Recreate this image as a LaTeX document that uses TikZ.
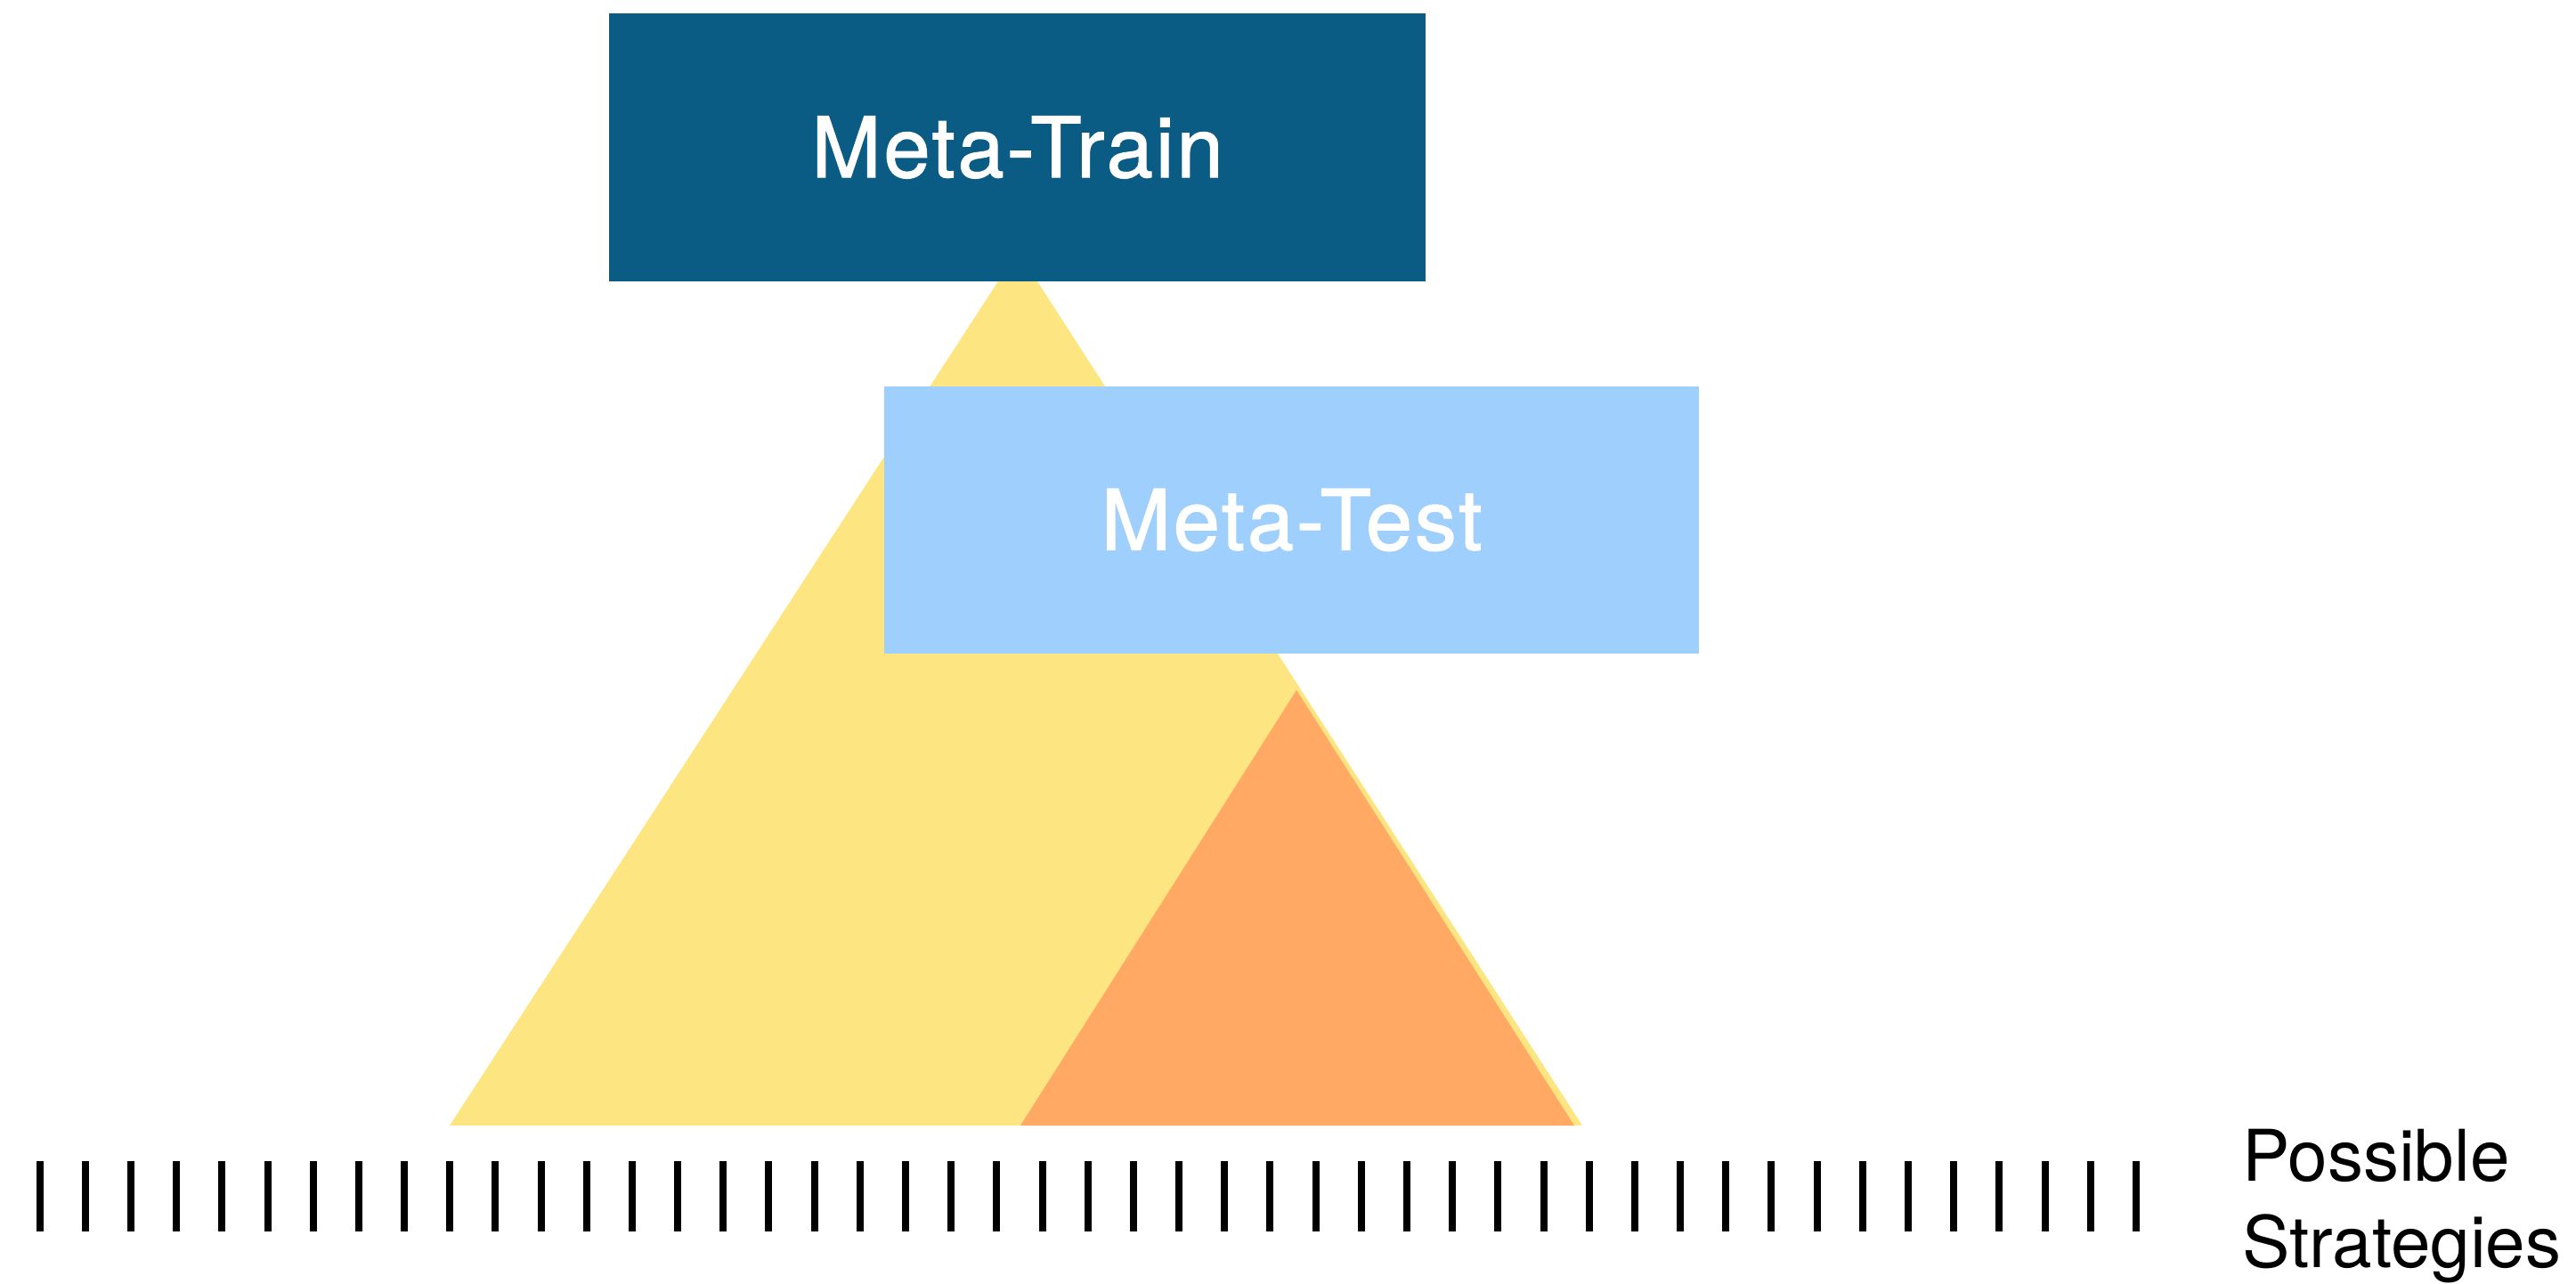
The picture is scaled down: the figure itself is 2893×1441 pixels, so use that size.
\documentclass[tikz,border=0pt]{standalone}
\usepackage{fontspec}
\setmainfont{TeX Gyre Heros}
\newfontfamily\phasefont[FakeBold=1.3,LetterSpace=3]{TeX Gyre Heros}
\definecolor{trainblue}{RGB}{11,92,133}
\definecolor{testblue}{RGB}{159,207,253}
\definecolor{spaceyellow}{RGB}{253,230,130}
\definecolor{subsetorange}{RGB}{255,169,100}
\begin{document}
\begin{tikzpicture}[x=1pt,y=-1pt,
  phasebox/.style={rectangle, inner sep=0pt, outer sep=0pt, draw=none,
    font=\phasefont\fontsize{94}{112}\selectfont},
  tickmark/.style={line width=8pt, black},
  caption/.style={inner sep=0pt, align=left, font=\fontsize{80}{97}\selectfont}]
  \useasboundingbox (0,0) rectangle (2893,1441);

  % space of strategies and the part reached at meta-test time
  \fill[spaceyellow] (1143,282) -- (1777,1264) -- (505,1264) -- cycle;
  \fill[subsetorange] (1456,775) -- (1768,1264) -- (1146,1264) -- cycle;

  % phases
  \node[phasebox, fill=trainblue, text=white, minimum width=917pt, minimum height=301pt]
    (train) at (1142.5,165.5) {Meta-Train};
  \node[phasebox, fill=testblue, text=white, minimum width=915pt, minimum height=300pt]
    (test) at (1450.5,584) {Meta-Test};

  % candidate strategies
  \foreach \i in {0,...,46}
    \draw[tickmark] ({44.6+51.18*\i},1304) -- ({44.6+51.18*\i},1383);

  \node[caption, anchor=north west] (strategies) at (2518,1268) {Possible\\Strategies};
\end{tikzpicture}
\end{document}
